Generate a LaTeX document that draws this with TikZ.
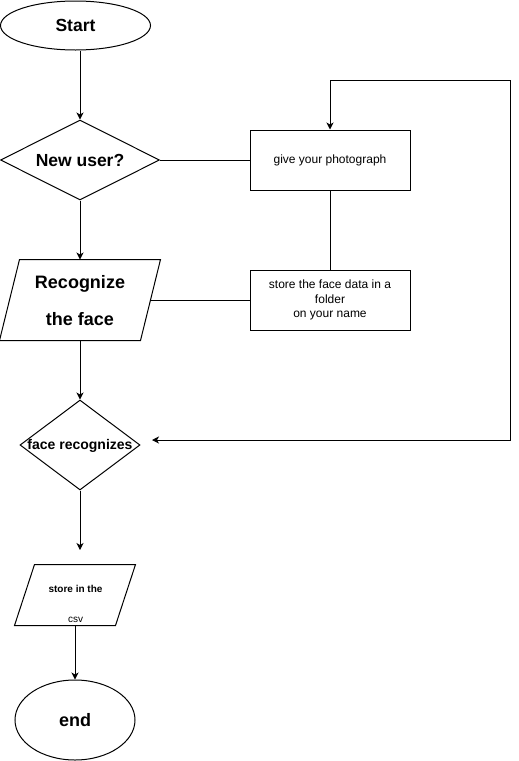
\documentclass[tikz,border=0pt]{standalone}
\usepackage{fontspec}
\setmainfont{Liberation Sans}
\usetikzlibrary{shapes.geometric,arrows.meta,calc}
\begin{document}
\begin{tikzpicture}[x=1pt,y=-1pt,line width=1pt,
  conn/.style={draw,-{Stealth[length=7pt,width=7pt,inset=2pt]}},
  plain/.style={draw},
  term/.style={draw,ellipse,inner sep=0pt},
  dec/.style={draw,diamond,inner sep=0pt},
  proc/.style={draw,rectangle,inner sep=0pt},
  io/.style={rectangle,inner sep=0pt}]
\useasboundingbox (0,0) rectangle (519,761);
% start
\node[term,minimum width=150pt,minimum height=49pt,font=\bfseries\fontsize{17.5}{20}\selectfont] (start) at (75.5,25.5) {Start};
% new user diamond
\node[dec,minimum width=159pt,minimum height=80pt,aspect=2] (nu) at (80,160) {};
\node[font=\bfseries\fontsize{17.5}{20}\selectfont] (nut) at (80,160) {New user?};
% give photograph
\node[proc,minimum width=160pt,minimum height=60pt,font=\fontsize{12}{14}\selectfont] (photo) at (330,160) {give your photograph};
% store face data
\node[proc,minimum width=160pt,minimum height=60pt,align=center,font=\fontsize{12}{14.5}\selectfont] (store) at (330,300) {store the face data in a\\folder\\on your name};
% recognize parallelogram
\node[io,minimum width=140pt,minimum height=80pt] (rec) at (80,300) {};
\draw ($(rec.south west)+(-10,0)$) -- ($(rec.north west)+(10,0)$) -- ($(rec.north east)+(10,0)$) -- ($(rec.south east)+(-10,0)$) -- cycle;
\node[align=center,font=\bfseries\fontsize{18}{37}\selectfont] (rect) at (80,301) {Recognize\\the face};
% face recognizes diamond
\node[dec,minimum width=120pt,minimum height=90pt,aspect=1.33] (fr) at (80,445) {};
\node[font=\bfseries\fontsize{14}{16}\selectfont] (frt) at (80,446) {face recognizes};
% csv parallelogram
\node[io,minimum width=100pt,minimum height=60pt] (csv) at (75,595) {};
\draw ($(csv.south west)+(-10,0)$) -- ($(csv.north west)+(10,0)$) -- ($(csv.north east)+(10,0)$) -- ($(csv.south east)+(-10,0)$) -- cycle;
\node[align=center,font=\fontsize{10}{30}\selectfont] (csvt) at (75.5,604) {\textbf{store in the}\\csv};
% end
\node[term,minimum width=120pt,minimum height=80pt,font=\bfseries\fontsize{18}{21}\selectfont] (end) at (75,720) {end};
% free coordinates
\coordinate (loopend) at (152,440);
\coordinate (csvin) at (80,550);
% connectors
\draw[conn] (start.south -| nu.north) -- (nu.north);
\draw[plain] (nu.east) -- (photo.west);
\draw[plain] (photo.south) -- (store.north);
\draw[plain] (store.west) -- (rec.east);
\draw[conn] (nu.south) -- (rec.north);
\draw[conn] (rec.south) -- (fr.north);
\draw[{Stealth[length=7pt,width=7pt,inset=2pt]}-{Stealth[length=7pt,width=7pt,inset=2pt]}] (loopend) -- (510,440) -- (510,80) -- (330,80) -- (photo.north);
\draw[conn] (fr.south) -- (csvin);
\draw[conn] (csv.south) -- (end.north);
\end{tikzpicture}
\end{document}
